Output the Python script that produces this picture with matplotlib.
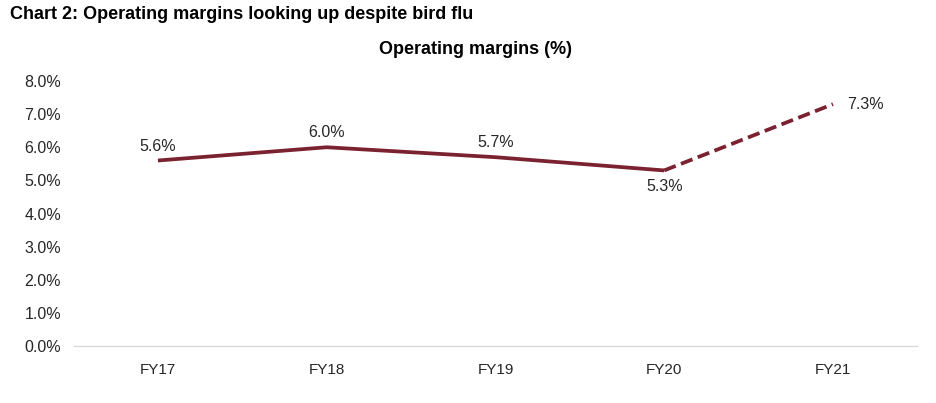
import matplotlib.pyplot as plt
from matplotlib.ticker import FuncFormatter

plt.rcParams['font.family'] = ['Liberation Sans', 'DejaVu Sans']

# data
years = ['FY17', 'FY18', 'FY19', 'FY20', 'FY21']
margins = [5.6, 6.0, 5.7, 5.3, 7.3]   # %, FY21 is a forecast (dashed)

line_col = '#7b2230'
txt_col = '#262626'

fig = plt.figure(figsize=(9.37, 4.03), dpi=100)
ax = fig.add_axes([0.0785, 0.1414, 0.9005, 0.6576])

x = list(range(len(years)))
# actuals solid, forecast dashed
ax.plot(x[:4], margins[:4], color=line_col, lw=2.7, solid_capstyle='butt')
ax.plot(x[3:], margins[3:], color=line_col, lw=2.7, ls=(0, (3.3, 1.5)))

# value labels
for i, v in enumerate(margins):
    txt = f'{v:.1f}%'
    if i == 3:
        ax.annotate(txt, (i, v), xytext=(0, -6), textcoords='offset points',
                    ha='center', va='top', fontsize=11.5, color=txt_col)
    elif i == 4:
        ax.annotate(txt, (i, v), xytext=(10, 0), textcoords='offset points',
                    ha='left', va='center', fontsize=11.5, color=txt_col)
    else:
        ax.annotate(txt, (i, v), xytext=(0, 5), textcoords='offset points',
                    ha='center', va='bottom', fontsize=11.5, color=txt_col)

ax.set_xlim(-0.5, 4.5)
ax.set_ylim(0, 8)
ax.set_yticks(range(0, 9))
ax.yaxis.set_major_formatter(FuncFormatter(lambda v, p: f'{v:.1f}%'))
ax.set_xticks(x)
ax.set_xticklabels(years)
ax.tick_params(axis='both', length=0, labelsize=11.5, colors=txt_col)
ax.tick_params(axis='x', pad=12, labelsize=11)
ax.tick_params(axis='y', pad=9)

for s in ['top', 'right', 'left']:
    ax.spines[s].set_visible(False)
ax.spines['bottom'].set_color('#d9d9d9')
ax.spines['bottom'].set_linewidth(1)

fig.text(0.011, 0.963, 'Chart 2: Operating margins looking up despite bird flu',
         fontsize=13, fontweight='bold', ha='left', va='center')
fig.text(0.507, 0.876, 'Operating margins (%)', fontsize=13, fontweight='bold',
         ha='center', va='center')

fig.savefig('out.png', dpi=100)
